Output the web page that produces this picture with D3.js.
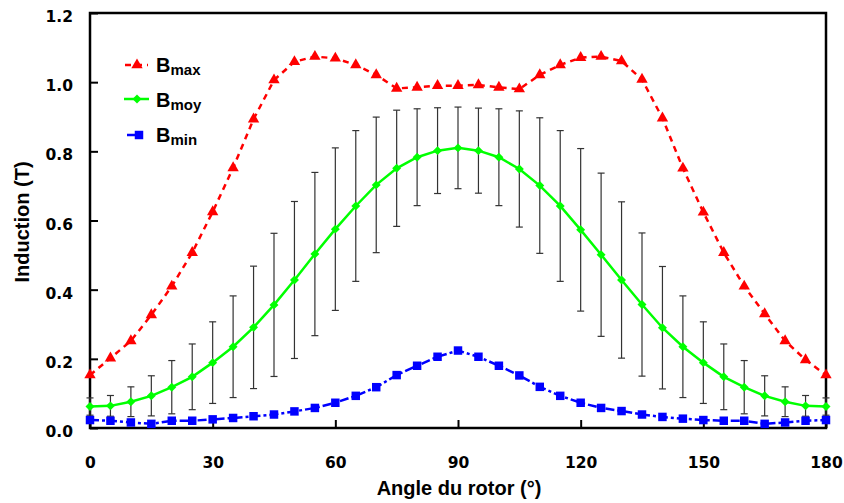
<!DOCTYPE html>
<html><head><meta charset="utf-8">
<script src="https://cdn.jsdelivr.net/npm/d3@7"></script>
<style>body{margin:0;background:#fff;} svg{display:block}</style>
</head><body><svg id="c" width="844" height="503"></svg>
<script>
const angles = [0,5,10,15,20,25,30,35,40,45,50,55,60,65,70,75,80,85,90,95,100,105,110,115,120,125,130,135,140,145,150,155,160,165,170,175,180];
const bMax = [0.153,0.202,0.252,0.327,0.41,0.507,0.625,0.752,0.893,1.006,1.059,1.074,1.069,1.05,1.021,0.982,0.985,0.99,0.99,0.992,0.985,0.98,1.021,1.05,1.071,1.074,1.061,1.008,0.896,0.751,0.624,0.507,0.41,0.33,0.252,0.197,0.153];
const bMoy = [0.062,0.064,0.076,0.093,0.118,0.148,0.189,0.235,0.291,0.356,0.428,0.503,0.575,0.642,0.703,0.751,0.783,0.802,0.81,0.802,0.783,0.749,0.701,0.642,0.573,0.501,0.428,0.357,0.29,0.235,0.189,0.148,0.118,0.093,0.076,0.064,0.062];
const bMoyErr = [0.025,0.03,0.043,0.058,0.077,0.095,0.118,0.147,0.177,0.207,0.227,0.236,0.235,0.218,0.196,0.168,0.14,0.124,0.118,0.123,0.14,0.168,0.196,0.218,0.235,0.236,0.226,0.207,0.177,0.147,0.118,0.095,0.077,0.058,0.043,0.03,0.025];
const bMin = [0.023,0.021,0.016,0.012,0.021,0.021,0.025,0.029,0.034,0.039,0.048,0.058,0.073,0.093,0.118,0.153,0.18,0.206,0.224,0.206,0.18,0.152,0.119,0.093,0.073,0.058,0.049,0.039,0.032,0.027,0.023,0.021,0.021,0.012,0.016,0.021,0.023];
const xTicks = [0,30,60,90,120,150,180];
const yTicks = [0,0.2,0.4,0.6,0.8,1.0,1.2];
const legendSubs = ["max","moy","min"];
const xTitle = "Angle du rotor (°)";
const yTitle = "Induction (T)";

const svg = d3.select("#c");
const L = 90, R = 826, T = 13, B = 428;
const x = d3.scaleLinear().domain([0,180]).range([L,R]);
const y = d3.scaleLinear().domain([0,1.2]).range([B,T]);

// frame
svg.append("rect").attr("x",L).attr("y",T).attr("width",R-L).attr("height",B-T)
  .attr("fill","none").attr("stroke","#000").attr("stroke-width",2.5);

const tickFont = "'DejaVu Sans', sans-serif";
const gx = svg.append("g").attr("transform",`translate(0,${B})`)
  .call(d3.axisBottom(x).tickValues(xTicks).tickSize(-8).tickPadding(29).tickFormat(d3.format("d")));
const gy = svg.append("g").attr("transform",`translate(${L},0)`)
  .call(d3.axisLeft(y).tickValues(yTicks).tickSize(-8).tickPadding(17).tickFormat(d3.format(".1f")));
[gx,gy].forEach(g=>{
  g.select(".domain").remove();
  g.selectAll(".tick line").attr("stroke","#000").attr("stroke-width",2);
  g.selectAll(".tick text").attr("fill","#000").style("font-family",tickFont)
    .style("font-weight","bold").style("font-size","15.5px");
});
gy.selectAll(".tick text").attr("dy","0.55em");

// titles
svg.append("text").attr("x",(L+R)/2+1).attr("y",495).attr("text-anchor","middle")
  .style("font-family","'Liberation Sans', Arial, sans-serif").style("font-weight","bold").style("font-size","20px")
  .text(xTitle);
svg.append("text").attr("transform",`translate(29,222) rotate(-90)`).attr("text-anchor","middle")
  .style("font-family","'Liberation Sans', Arial, sans-serif").style("font-weight","bold").style("font-size","20px")
  .text(yTitle);

// error bars
const eg = svg.append("g").attr("stroke","#333").attr("stroke-width",1.2);
angles.forEach((a,i)=>{
  const cx = x(a), y1 = y(bMoy[i]+bMoyErr[i]), y2 = y(bMoy[i]-bMoyErr[i]);
  eg.append("line").attr("x1",cx).attr("x2",cx).attr("y1",y1).attr("y2",y2);
  eg.append("line").attr("x1",cx-3.5).attr("x2",cx+3.5).attr("y1",y1).attr("y2",y1);
  eg.append("line").attr("x1",cx-3.5).attr("x2",cx+3.5).attr("y1",y2).attr("y2",y2);
});

const series = [
  {vals:bMax, color:"#ff0000", dash:"6,5", sym:d3.symbolTriangle, size:56, rot:0},
  {vals:bMoy, color:"#00ff00", dash:null, sym:d3.symbolSquare, size:40, rot:45},
  {vals:bMin, color:"#0000ff", dash:"9,3,3,3", sym:d3.symbolSquare, size:72, rot:0}
];
series.forEach(s=>{
  const line = d3.line().x((d,i)=>x(angles[i])).y(d=>y(d));
  svg.append("path").attr("d",line(s.vals)).attr("fill","none").attr("stroke",s.color)
    .attr("stroke-width",2.5).attr("stroke-dasharray",s.dash);
  svg.append("g").selectAll("path").data(s.vals).join("path")
    .attr("d",d3.symbol().type(s.sym).size(s.size))
    .attr("transform",(d,i)=>`translate(${x(angles[i])},${y(d)}) rotate(${s.rot})`)
    .attr("fill",s.color);
});

// legend
const legY = [65,99,135];
const legLine = [[125,148],[124,149],[127,145]];
const legSym = [137,137,139];
const legTextY = [72,107,142];
series.forEach((s,i)=>{
  svg.append("line").attr("x1",legLine[i][0]).attr("x2",legLine[i][1]).attr("y1",legY[i]).attr("y2",legY[i])
    .attr("stroke",s.color).attr("stroke-width",2.5).attr("stroke-dasharray",s.dash);
  svg.append("path").attr("d",d3.symbol().type(s.sym).size(s.size))
    .attr("transform",`translate(${legSym[i]},${legY[i]}) rotate(${s.rot})`).attr("fill",s.color);
  const t = svg.append("text").attr("x",156).attr("y",legTextY[i])
    .style("font-family","'Liberation Sans', Arial, sans-serif").style("font-weight","bold").style("font-size","20px");
  t.append("tspan").text("B");
  t.append("tspan").attr("dy",2.5).style("font-size","15px").text(legendSubs[i]);
});
</script></body></html>
